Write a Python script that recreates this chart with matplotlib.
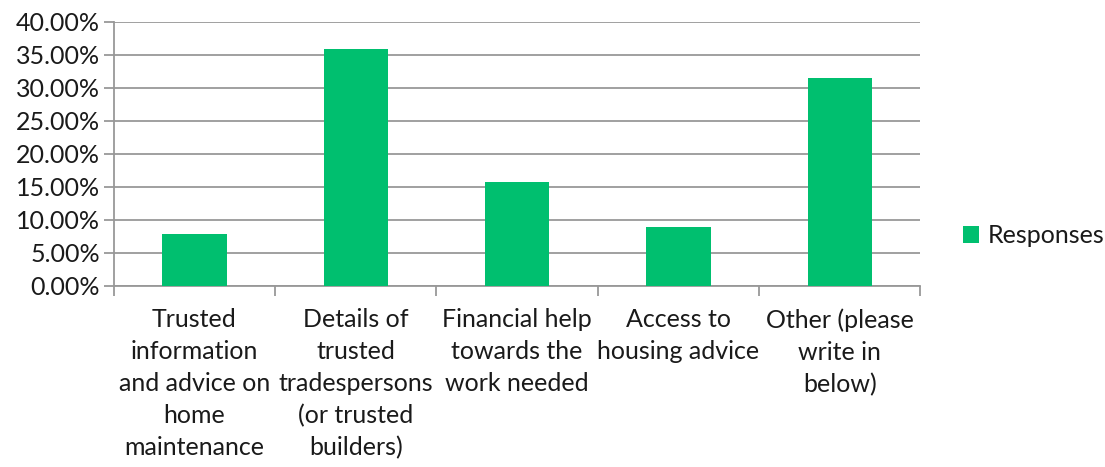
import numpy as np
import matplotlib.pyplot as plt
from matplotlib.ticker import PercentFormatter

plt.rcParams['font.family'] = ['Lato', 'DejaVu Sans']

categories = [
    "Trusted\ninformation\nand advice on\nhome\nmaintenance",
    "Details of\ntrusted\ntradespersons\n(or trusted\nbuilders)",
    "Financial help\ntowards the\nwork needed",
    "Access to\nhousing advice",
    "Other (please\nwrite in\nbelow)",
]
responses = [7.87, 35.96, 15.73, 8.99, 31.46]
yticks = [0, 5, 10, 15, 20, 25, 30, 35, 40]

green = '#00BF6F'
grid_col = '#989898'
text_col = '#1a1a1a'

fig = plt.figure(figsize=(11.05, 4.67), dpi=100)
ax = fig.add_axes([0.103, 0.388, 0.730, 0.565])

x = np.arange(len(categories))
ax.bar(x, responses, width=0.4, color=green, zorder=3, label='Responses')

ax.set_xlim(-0.5, len(categories) - 0.5)
ax.set_ylim(0, 40)
ax.set_yticks(yticks)
ax.yaxis.set_major_formatter(PercentFormatter(decimals=2))
ax.grid(axis='y', color=grid_col, linewidth=1.3, zorder=0)

# category labels sit between the boundary ticks
ax.set_xticks(np.arange(len(categories) + 1) - 0.5)
ax.set_xticklabels([])
ax.set_xticks(x, minor=True)
ax.set_xticklabels(categories, minor=True, fontsize=18, color=text_col,
                   linespacing=1.47, va='top')
ax.tick_params(axis='x', which='minor', length=0, pad=16)
ax.tick_params(axis='x', which='major', length=7, width=1.3, color=grid_col)
ax.tick_params(axis='y', length=7, width=1.3, color=grid_col,
               labelsize=18, labelcolor=text_col, pad=3)

for side in ['top', 'right']:
    ax.spines[side].set_visible(False)
for side in ['left', 'bottom']:
    ax.spines[side].set_color(grid_col)
    ax.spines[side].set_linewidth(1.3)

ax.legend(loc='center left', bbox_to_anchor=(1.025, 0.19), frameon=False,
          fontsize=18, handlelength=0.65, handleheight=0.65, handletextpad=0.35,
          labelcolor=text_col)

fig.savefig('out.png', dpi=100)
